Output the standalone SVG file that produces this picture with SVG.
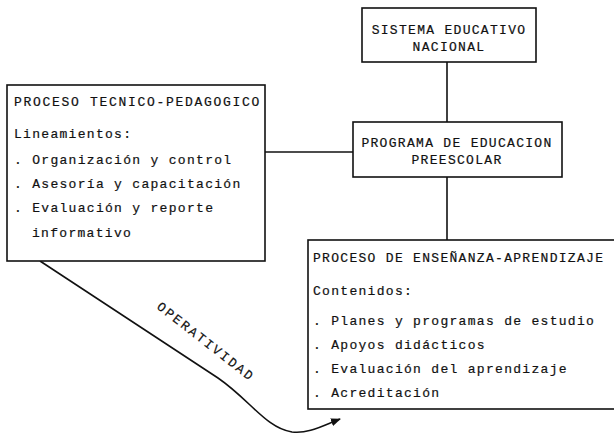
<svg xmlns="http://www.w3.org/2000/svg" width="614" height="435" viewBox="0 0 614 435">
<style>
.box{fill:#fff;stroke:#111;stroke-width:1.6}
.t{font-family:"Liberation Mono","DejaVu Sans Mono",monospace;font-size:13px;letter-spacing:1.3px;fill:#111;stroke:#111;stroke-width:0.2}
.c{text-anchor:middle}
.w{letter-spacing:1.7px}
.line{fill:none;stroke:#111;stroke-width:1.6}
</style>
<defs>
<marker id="arr" markerWidth="10" markerHeight="8" refX="9" refY="4" orient="auto" markerUnits="userSpaceOnUse">
<path d="M0,0 L10,4 L0,8 Z" fill="#111"/>
</marker>
</defs>
<rect width="614" height="435" fill="#fff"/>
<g id="connectors">
<line class="line" x1="447" y1="62" x2="447" y2="122"/>
<line class="line" x1="447" y1="177" x2="447" y2="240"/>
<line class="line" x1="265" y1="152" x2="353" y2="152"/>
<path class="line" d="M40,261 L218,378 C250,400 266,428 292,432 C308,434 322,426 340,419" marker-end="url(#arr)"/>
<text class="t" x="0" y="0" style="letter-spacing:2.2px" transform="translate(156,308) rotate(38)">OPERATIVIDAD</text>
</g>
<g id="sistema">
<rect class="box" x="362" y="8" width="174" height="54"/>
<text class="t c" x="449" y="34">SISTEMA EDUCATIVO</text>
<text class="t c" x="449" y="51">NACIONAL</text>
</g>
<g id="programa">
<rect class="box" x="353" y="122" width="209" height="55"/>
<text class="t c" x="457" y="147">PROGRAMA DE EDUCACION</text>
<text class="t c" x="457" y="164">PREESCOLAR</text>
</g>
<g id="tecnico">
<rect class="box" x="7" y="85" width="258" height="176"/>
<text class="t w" x="14" y="106">PROCESO TECNICO-PEDAGOGICO</text>
<text class="t" x="14" y="138">Lineamientos:</text>
<text class="t" x="14" y="164">. Organización y control</text>
<text class="t" x="14" y="188">. Asesoría y capacitación</text>
<text class="t" x="14" y="212">. Evaluación y reporte</text>
<text class="t" x="32" y="237">informativo</text>
</g>
<g id="ensenanza">
<rect class="box" x="308" y="240" width="320" height="169"/>
<text class="t" x="313" y="262">PROCESO DE ENSEÑANZA-APRENDIZAJE</text>
<text class="t" x="313" y="295">Contenidos:</text>
<text class="t" x="313" y="325">. Planes y programas de estudio</text>
<text class="t" x="313" y="349">. Apoyos didácticos</text>
<text class="t" x="313" y="373">. Evaluación del aprendizaje</text>
<text class="t" x="313" y="397">. Acreditación</text>
</g>
</svg>
